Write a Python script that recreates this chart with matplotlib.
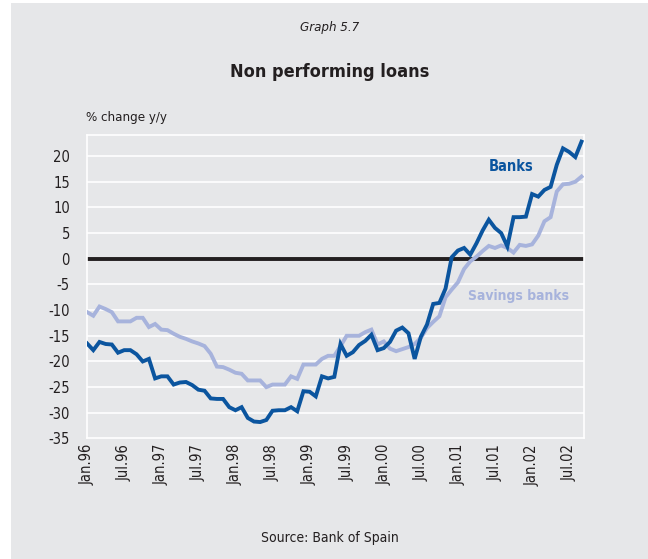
import numpy as np
import matplotlib.pyplot as plt
from matplotlib.patches import Rectangle

# ---------- DATA (monthly, Jan.96 .. Sep.02) ----------
banks = [
    -16.5, -17.8, -16.2, -16.6, -16.7, -18.3, -17.8, -17.8, -18.6, -20.0,
    -19.5, -23.3, -22.9, -22.9, -24.5, -24.1, -24.0, -24.6, -25.5, -25.7,
    -27.2, -27.3, -27.3, -28.9, -29.5, -28.9, -31.0, -31.7, -31.8, -31.4,
    -29.6, -29.5, -29.5, -28.9, -29.7, -25.8, -25.9, -26.8, -22.9, -23.3,
    -23.0, -16.6, -18.9, -18.2, -16.8, -16.0, -14.8, -17.8, -17.4, -16.2,
    -14.0, -13.4, -14.5, -19.5, -15.2, -12.8, -8.8, -8.6, -5.8, 0.3,
    1.6, 2.1, 0.8, 3.0, 5.5, 7.6, 6.0, 5.0, 2.4, 8.1,
    8.1, 8.2, 12.6, 12.1, 13.4, 14.0, 18.3, 21.5, 20.8, 19.8,
    22.8,
]
savings_banks = [
    -10.4, -11.1, -9.3, -9.8, -10.4, -12.2, -12.2, -12.2, -11.5, -11.5,
    -13.3, -12.7, -13.8, -13.9, -14.6, -15.2, -15.6, -16.1, -16.5, -17.0,
    -18.5, -21.0, -21.1, -21.6, -22.2, -22.4, -23.7, -23.7, -23.7, -25.0,
    -24.5, -24.5, -24.5, -22.9, -23.4, -20.6, -20.6, -20.6, -19.5, -18.9,
    -18.9, -17.0, -15.0, -15.0, -15.0, -14.3, -13.8, -16.7, -16.1, -17.5,
    -18.0, -17.6, -17.2, -16.6, -15.4, -13.5, -12.3, -11.2, -7.5, -6.0,
    -4.6, -2.0, -0.5, 0.4, 1.5, 2.5, 2.1, 2.6, 2.1, 1.2,
    2.7, 2.5, 2.8, 4.5, 7.3, 8.1, 13.1, 14.5, 14.6, 15.0,
    16.0,
]
tick_labels = ["Jan.96", "Jul.96", "Jan.97", "Jul.97", "Jan.98", "Jul.98",
               "Jan.99", "Jul.99", "Jan.00", "Jul.00", "Jan.01", "Jul.01",
               "Jan.02", "Jul.02"]
y_ticks = [-35, -30, -25, -20, -15, -10, -5, 0, 5, 10, 15, 20]

# ---------- STYLE ----------
BG = "#e6e7e9"
BANKS_C = "#0b559f"
SAVINGS_C = "#a7b3dc"
TEXT_C = "#231f20"
plt.rcParams["font.family"] = ["DejaVu Sans"]
plt.rcParams["font.stretch"] = "condensed"

months = np.arange(len(banks))

fig = plt.figure(figsize=(6.48, 5.59), dpi=100)
fig.patch.set_facecolor("white")
fig.patches.append(Rectangle((11 / 648, 0), 1, 1 - 3 / 559,
                             transform=fig.transFigure, facecolor=BG,
                             edgecolor="none", zorder=-10))

ax = fig.add_axes([0.1335, 0.2156, 0.7677, 0.5429])
ax.set_facecolor(BG)
for s in ax.spines.values():
    s.set_color("white")
    s.set_linewidth(1.2)

# white gridlines, heavy zero line
for v in y_ticks:
    if v not in (0, -35):
        ax.axhline(v, color="white", lw=1.2, zorder=1)
ax.axhline(0, color=TEXT_C, lw=2.8, zorder=2)

ax.plot(months, savings_banks, color=SAVINGS_C, lw=2.8, zorder=3,
        solid_joinstyle="miter")
ax.plot(months, banks, color=BANKS_C, lw=2.8, zorder=4,
        solid_joinstyle="miter")

ax.set_xlim(-0.1, 80.4)
ax.set_ylim(-35, 24.1)
ax.set_xticks(np.arange(0, 79, 6))
ax.set_xticklabels(tick_labels, rotation=90, fontsize=10.5, color=TEXT_C)
ax.set_yticks(y_ticks)
ax.set_yticklabels([str(v) for v in y_ticks], fontsize=10.5, color=TEXT_C)
ax.tick_params(length=0, pad=4)
ax.tick_params(axis="y", pad=12)

ax.text(65.0, 17.9, "Banks", color=BANKS_C, fontsize=10.5,
        fontweight="bold", ha="left", va="center")
ax.text(61.6, -7.3, "Savings banks", color=SAVINGS_C, fontsize=10,
        fontweight="bold", ha="left", va="center")

fig.text(0.509, 1 - 28 / 559, "Graph 5.7", ha="center", va="center",
         fontsize=9.5, style="italic", color=TEXT_C)
fig.text(0.509, 1 - 72 / 559, "Non performing loans", ha="center",
         va="center", fontsize=13, fontweight="bold", color=TEXT_C)
fig.text(86 / 648, 1 - 117 / 559, "% change y/y", ha="left", va="center",
         fontsize=9.5, color=TEXT_C)
fig.text(0.509, 1 - 538 / 559, "Source: Bank of Spain", ha="center",
         va="center", fontsize=10, color=TEXT_C)

fig.savefig("out.png", dpi=100, facecolor=fig.get_facecolor())
